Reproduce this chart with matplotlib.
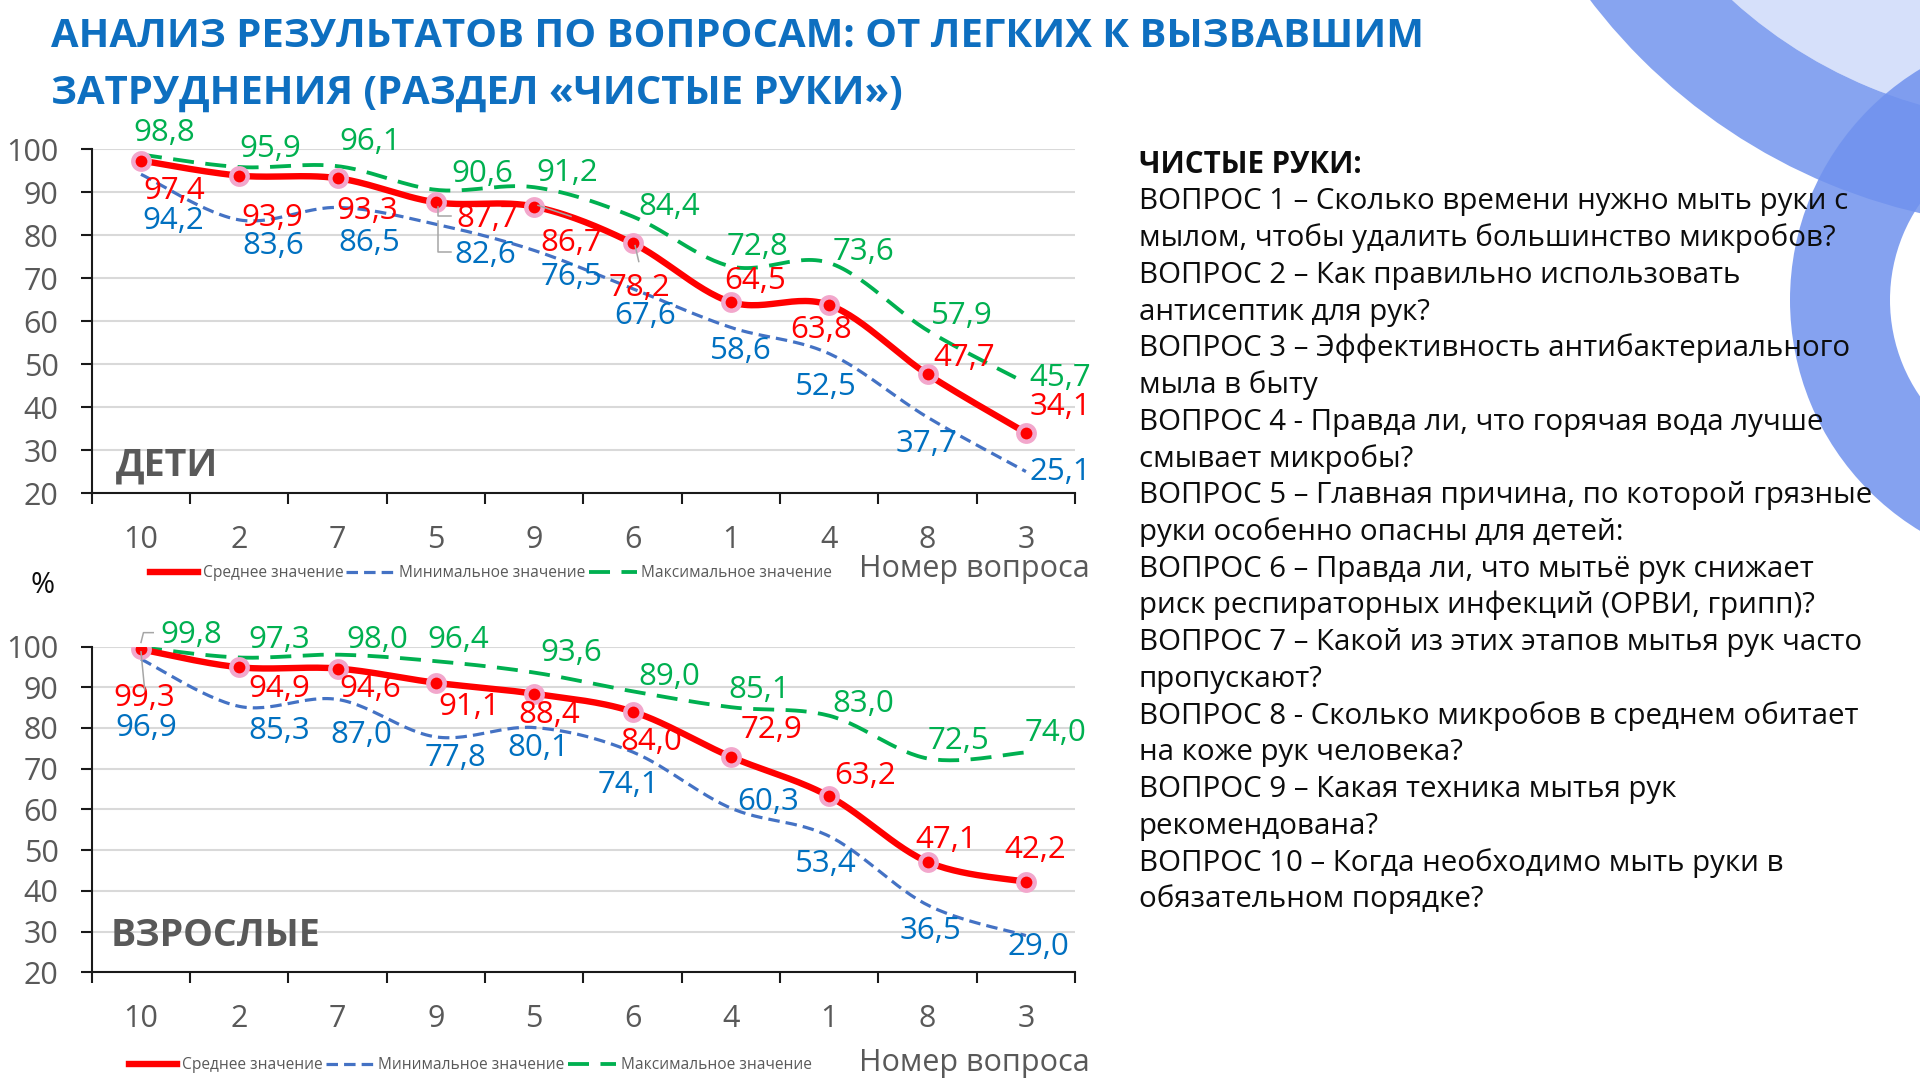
import numpy as np
import matplotlib
matplotlib.use("Agg")
import matplotlib.pyplot as plt
from matplotlib.patches import Wedge, Circle
from matplotlib.lines import Line2D
from matplotlib.transforms import IdentityTransform

plt.rcParams['font.family'] = ['Open Sans', 'DejaVu Sans']

# ---------------- data ----------------
title_lines = ["АНАЛИЗ РЕЗУЛЬТАТОВ ПО ВОПРОСАМ: ОТ ЛЕГКИХ К ВЫЗВАВШИМ",
               "ЗАТРУДНЕНИЯ (РАЗДЕЛ «ЧИСТЫЕ РУКИ»)"]

kids_questions = ['10', '2', '7', '5', '9', '6', '1', '4', '8', '3']
kids_mean = [97.4, 93.9, 93.3, 87.7, 86.7, 78.2, 64.5, 63.8, 47.7, 34.1]
kids_min = [94.2, 83.6, 86.5, 82.6, 76.5, 67.6, 58.6, 52.5, 37.7, 25.1]
kids_max = [98.8, 95.9, 96.1, 90.6, 91.2, 84.4, 72.8, 73.6, 57.9, 45.7]

adults_questions = ['10', '2', '7', '9', '5', '6', '4', '1', '8', '3']
adults_mean = [99.3, 94.9, 94.6, 91.1, 88.4, 84.0, 72.9, 63.2, 47.1, 42.2]
adults_min = [96.9, 85.3, 87.0, 77.8, 80.1, 74.1, 60.3, 53.4, 36.5, 29.0]
adults_max = [99.8, 97.3, 98.0, 96.4, 93.6, 89.0, 85.1, 83.0, 72.5, 74.0]

y_ticks = [20, 30, 40, 50, 60, 70, 80, 90, 100]
series_names = ['Среднее значение', 'Минимальное значение', 'Максимальное значение']
x_axis_title = 'Номер вопроса'
y_unit = '%'
panel_names = ['ДЕТИ', 'ВЗРОСЛЫЕ']

question_lines = [
    "ЧИСТЫЕ РУКИ:",
    "ВОПРОС 1 – Сколько времени нужно мыть руки с",
    "мылом, чтобы удалить большинство микробов?",
    "ВОПРОС 2 – Как правильно использовать",
    "антисептик для рук?",
    "ВОПРОС 3 – Эффективность антибактериального",
    "мыла в быту",
    "ВОПРОС 4 - Правда ли, что горячая вода лучше",
    "смывает микробы?",
    "ВОПРОС 5 – Главная причина, по которой грязные",
    "руки особенно опасны для детей:",
    "ВОПРОС 6 – Правда ли, что мытьё рук снижает",
    "риск респираторных инфекций (ОРВИ, грипп)?",
    "ВОПРОС 7 – Какой из этих этапов мытья рук часто",
    "пропускают?",
    "ВОПРОС 8 - Сколько микробов в среднем обитает",
    "на коже рук человека?",
    "ВОПРОС 9 – Какая техника мытья рук",
    "рекомендована?",
    "ВОПРОС 10 – Когда необходимо мыть руки в",
    "обязательном порядке?",
]

# ---------------- style ----------------
RED = '#FF0000'
BLUE_LINE = '#4472C4'
BLUE_TXT = '#0070C0'
GREEN = '#00B050'
GRAY = '#595959'
TITLE_BLUE = '#0E6FC0'
PINK = '#F2A7CC'
LABEL_SIZE = 22.5

# label offsets (reference px: right, down)
kids_mean_off = [(27, 25), (27, 35), (24, 27), (42, 14), (30, 30), (6, 37), (20, -17), (-7, 20), (30, -13), (28, -21)]
kids_min_off = [(26, 38), (28, 21), (26, 29), (40, 25), (30, 22), (10, 22), (8, 19), (-3, 27), (-1, 22), (28, 0)]
kids_max_off = [(19, -18), (25, -15), (27, -20), (38, -13), (27, -12), (30, -8), (22, -16), (28, -9), (28, -12), (28, -4)]
adults_mean_off = [(3, 40), (33, 18), (27, 17), (27, 20), (12, 17), (15, 25), (33, -22), (29, -17), (15, -18), (8, -26)]
adults_min_off = [(4, 56), (33, 20), (19, 29), (16, 17), (3, 17), (-3, 27), (30, -5), (-3, 23), (2, 21), (10, 9)]
adults_max_off = [(41, -10), (33, -14), (32, -12), (18, -17), (30, -16), (30, -12), (23, -14), (28, -10), (25, -14), (24, -16)]

# leader lines: (series, index, offsets in reference px)
kids_leaders = [('mean', 3, [(2, 4), (2, 11), (12, 11)]),
                ('min', 3, [(2, -3), (2, 23), (12, 23)]),
                ('mean', 4, [(3, -1), (30, 8)]),
                ('mean', 5, [(2, 2), (5, 15)])]
adults_leaders = [('mean', 0, [(0, 2), (3, 33)]),
                  ('max', 0, [(0, -4), (2, -12), (10, -12)])]

W_REF, H_REF = 1568.0, 882.0
SC = 1080.0 / H_REF          # ref px -> output px
PT = SC * 0.72               # ref px -> points


def fx(x):
    return x / W_REF


def fy(y):
    return 1 - y / H_REF


def smooth(xs, ys, n=30):
    P = np.column_stack([xs, ys]).astype(float)
    E = np.vstack([P[0], P, P[-1]])
    out = []
    for i in range(len(P) - 1):
        p0, p1, p2, p3 = E[i], E[i + 1], E[i + 2], E[i + 3]
        c1 = p1 + (p2 - p0) / 6.0
        c2 = p2 - (p3 - p1) / 6.0
        t = np.linspace(0, 1, n)[:, None]
        seg = ((1 - t) ** 3) * p1 + 3 * ((1 - t) ** 2) * t * c1 + 3 * (1 - t) * t ** 2 * c2 + t ** 3 * p2
        out.append(seg if i == 0 else seg[1:])
    S = np.vstack(out)
    return S[:, 0], S[:, 1]


fig = plt.figure(figsize=(19.2, 10.8), dpi=100)
fig.patch.set_facecolor('white')

# background decoration (pixel space)
bg = fig.add_axes([0, 0, 1, 1], zorder=-10)
bg.set_xlim(0, 1920)
bg.set_ylim(1080, 0)
bg.axis('off')
bg.add_patch(Circle((2050, -350), 473, color='#D6E0FA', lw=0))
bg.add_patch(Wedge((2050, -350), 578, 0, 360, width=578 - 473, color='#7A9AEF', alpha=0.9, lw=0))
bg.add_patch(Wedge((2060, 300), 270, 0, 360, width=100, color='#7092EE', alpha=0.85, lw=0))


def style_axis(ax, cats):
    ax.set_xlim(-0.5, 9.5)
    ax.set_ylim(20, 100)
    ax.patch.set_alpha(0)
    ax.set_yticks(y_ticks)
    ax.set_yticklabels([str(v) for v in y_ticks])
    ax.yaxis.grid(True, color='#D9D9D9', lw=1.5)
    ax.set_axisbelow(True)
    ax.set_xticks(np.arange(-0.5, 10, 1))
    ax.set_xticklabels([])
    ax.set_xticks(np.arange(len(cats)), minor=True)
    ax.set_xticklabels(cats, minor=True)
    ax.tick_params(axis='x', which='major', direction='out', length=8, width=1.5, color='#1A1A1A')
    ax.tick_params(axis='x', which='minor', length=0, pad=23, labelsize=22, labelcolor=GRAY)
    ax.tick_params(axis='y', direction='out', length=8, width=1.5, color='#1A1A1A', pad=16,
                   labelsize=22, labelcolor=GRAY)
    for s in ['top', 'right']:
        ax.spines[s].set_visible(False)
    for s in ['left', 'bottom']:
        ax.spines[s].set_linewidth(1.5)
        ax.spines[s].set_color('#1A1A1A')


def fmt(v):
    return f"{v:.1f}".replace('.', ',')


def draw_panel(ax, cats, mean, vmin, vmax, offs, leaders):
    x = np.arange(len(cats))
    sx, sy = smooth(x, vmax)
    ax.plot(sx, sy, color=GREEN, lw=2.75, dashes=(5.5, 3.0), zorder=3)
    sx, sy = smooth(x, vmin)
    ax.plot(sx, sy, color=BLUE_LINE, lw=2.3, dashes=(3.6, 1.9), zorder=3)
    sx, sy = smooth(x, mean)
    ax.plot(sx, sy, color=RED, lw=4.6, zorder=4, solid_capstyle='round')
    ax.plot(x, mean, 'o', ms=15, color=PINK, mec='none', zorder=5)
    ax.plot(x, mean, 'o', ms=8.5, color=RED, mec='none', zorder=6)
    series = {'mean': mean, 'min': vmin, 'max': vmax}
    colors = {'mean': RED, 'min': BLUE_TXT, 'max': GREEN}
    for key, off in zip(['max', 'min', 'mean'], [offs[2], offs[1], offs[0]]):
        for i, (v, (dx, dy)) in enumerate(zip(series[key], off)):
            ax.annotate(fmt(v), (i, v), xytext=(dx * PT, -dy * PT), textcoords='offset points',
                        ha='center', va='center', fontsize=LABEL_SIZE, color=colors[key],
                        annotation_clip=False, zorder=7)
    fig.canvas.draw()
    for key, i, pts in leaders:
        px, py = ax.transData.transform((i, series[key][i]))
        xs = [px + dx * SC for dx, dy in pts]
        ys = [py - dy * SC for dx, dy in pts]
        fig.add_artist(Line2D(xs, ys, transform=IdentityTransform(), color='#A6A6A6', lw=1.1, zorder=6))


ax_top = fig.add_axes([fx(75), fy(403), fx(878) - fx(75), fy(122) - fy(403)])
ax_bot = fig.add_axes([fx(75), fy(794), fx(878) - fx(75), fy(528) - fy(794)])
style_axis(ax_top, kids_questions)
style_axis(ax_bot, adults_questions)
draw_panel(ax_top, kids_questions, kids_mean, kids_min, kids_max,
           (kids_mean_off, kids_min_off, kids_max_off), kids_leaders)
draw_panel(ax_bot, adults_questions, adults_mean, adults_min, adults_max,
           (adults_mean_off, adults_min_off, adults_max_off), adults_leaders)

# panel names
fig.text(fx(95), fy(380), panel_names[0], fontsize=27, weight='bold', color=GRAY, va='center', ha='left')
fig.text(fx(90), fy(764), panel_names[1], fontsize=27, weight='bold', color=GRAY, va='center', ha='left')

# legends
handles = [Line2D([], [], color=RED, lw=4.6),
           Line2D([], [], color=BLUE_LINE, lw=2.3, dashes=(3.6, 1.9)),
           Line2D([], [], color=GREEN, lw=2.75, dashes=(5.5, 3.0))]
for leg_y, leg_x, title_base in [(468, 401, 471), (870, 384, 875)]:
    fig.legend(handles, series_names, loc='center', bbox_to_anchor=(fx(leg_x), fy(leg_y)), ncol=3,
               frameon=False, fontsize=11.2, handlelength=3.1, handletextpad=0.3,
               columnspacing=0.2, labelcolor=GRAY, borderpad=0, borderaxespad=0)
    fig.text(fx(890), fy(title_base), x_axis_title, fontsize=22, color=GRAY, ha='right', va='baseline')

fig.text(fx(35), fy(478), y_unit, fontsize=21, color='#0D0D0D', ha='center', va='center')

renderer = fig.canvas.get_renderer()

# title
t1 = fig.text(fx(42), fy(38), title_lines[0], fontsize=30, weight='bold', color=TITLE_BLUE,
              ha='left', va='baseline')
bb = t1.get_window_extent(renderer=renderer)
tsize = 30 * (1120 * SC) / bb.width
t1.set_fontsize(tsize)
fig.text(fx(42), fy(85), title_lines[1], fontsize=tsize, weight='bold', color=TITLE_BLUE,
         ha='left', va='baseline')

# question block
probe = fig.text(0, 0, question_lines[1], fontsize=20)
bb = probe.get_window_extent(renderer=renderer)
qsize = 20 * (580 * SC) / bb.width
probe.remove()
for k, line in enumerate(question_lines):
    fig.text(fx(930), fy(141 + 30 * k), line, fontsize=qsize, color='#0D0D0D',
             weight='bold' if k == 0 else 'normal', ha='left', va='baseline')

fig.savefig('out.png', dpi=100, facecolor='white')
